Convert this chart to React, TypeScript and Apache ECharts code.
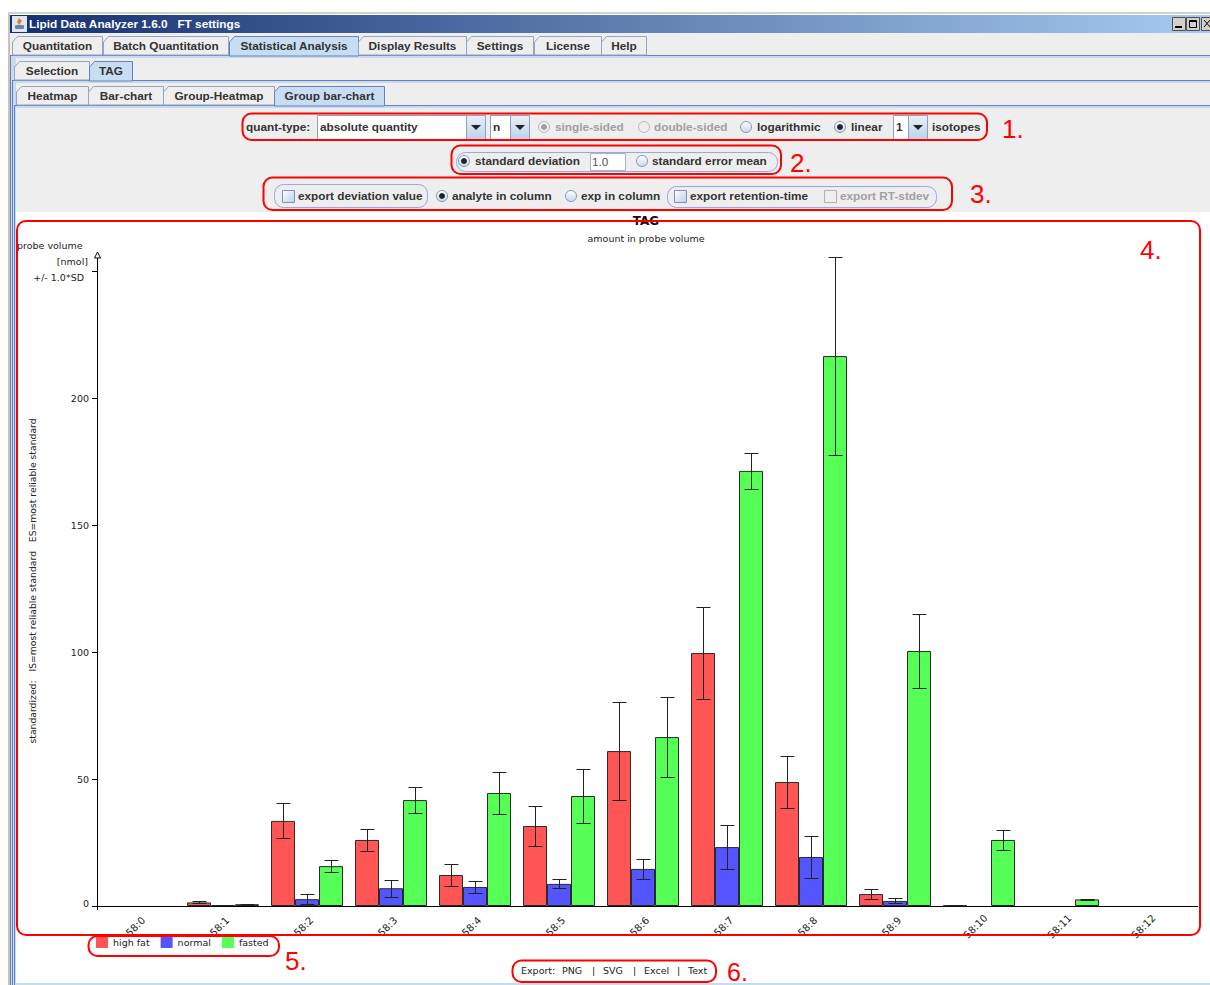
import React, { useEffect, useRef } from "react";
import * as echarts from "echarts";

const categories = ["58:0","58:1","58:2","58:3","58:4","58:5","58:6","58:7","58:8","58:9","58:10","58:11","58:12"];
const seriesNames = ["high fat", "normal", "fasted"];
const highFat = [null, 1.4, 33.5, 26, 12.2, 31.5, 61, 99.6, 48.8, 4.7, 0.2, null, null];
const normal = [null, 0.3, 2.7, 7, 7.5, 8.7, 14.6, 23.2, 19.3, 2, null, null, null];
const fasted = [null, 0.7, 15.7, 41.7, 44.5, 43.3, 66.5, 171.3, 216.5, 100.4, 26, 2.6, null];
const highFatSd = [null, 0.4, 6.9, 4.5, 4.5, 7.9, 19.3, 18.1, 10.2, 2, 0, null, null];
const normalSd = [null, 0, 1.9, 3.4, 2.2, 1.8, 4, 8.5, 8.1, 1, null, null, null];
const fastedSd = [null, 0.2, 2.3, 5.1, 8.3, 10.8, 15.8, 7.2, 38.9, 14.6, 3.9, 0.3, null];
const yTicks = [0, 50, 100, 150, 200];

const TXT = "#333333";
const GREY = "#a0a0a0";
const RED = "#ff0000";
const BOLD = "Liberation Sans";
const CHART = "DejaVu Sans";

const rect = (x: number, y: number, w: number, h: number, fill: any, stroke?: string, r = 0, z = 0) => ({
  type: "rect", z, silent: true, shape: { x, y, width: w, height: h, r }, style: { fill, stroke: stroke ?? "none", lineWidth: 1 },
});
const text = (x: number, y: number, t: string, o: any = {}) => ({
  type: "text", x, y, z: o.z ?? 5, rotation: o.rotation ?? 0, silent: true,
  style: {
    text: t, fill: o.fill ?? TXT, align: o.align ?? "left", verticalAlign: "middle",
    font: `${o.weight ?? "bold"} ${o.size ?? 11.8}px "${o.family ?? BOLD}"`,
  },
});
const cText = (x: number, y: number, t: string, o: any = {}) => text(x, y, t, { weight: "normal", size: 9.5, family: CHART, fill: "#222", ...o });
const line = (x1: number, y1: number, x2: number, y2: number, stroke: string, z = 1) => ({
  type: "line", z, silent: true, shape: { x1, y1, x2, y2 }, style: { stroke, lineWidth: 1 },
});
const tab = (x1: number, x2: number, y1: number, y2: number, label: string, selected = false) => [
  {
    type: "polygon", z: 2, silent: true,
    shape: { points: [[x1 + 0.5, y2], [x1 + 0.5, y1 + 6], [x1 + 5.5, y1 + 0.5], [x2 + 0.5, y1 + 0.5], [x2 + 0.5, y2]] },
    style: { fill: selected ? "#c8ddf2" : "#eeeeee", stroke: selected ? "#6382bf" : "#93a5c0", lineWidth: 1 },
  },
  text((x1 + x2) / 2 + 0.5, (y1 + y2) / 2, label, { align: "center" }),
];
const radio = (cx: number, cy: number, on: boolean, disabled = false) => {
  const g = new echarts.graphic.LinearGradient(0, 0, 0, 1, [
    { offset: 0, color: "#ffffff" }, { offset: 1, color: "#c8d8ea" },
  ]);
  const a: any[] = [{
    type: "circle", z: 4, silent: true, shape: { cx, cy, r: 5.5 },
    style: { fill: disabled ? "#eeeeee" : g, stroke: disabled ? "#b8b8b8" : "#7f93b8", lineWidth: 1 },
  }];
  if (on) a.push({ type: "circle", z: 5, silent: true, shape: { cx, cy, r: 3 }, style: { fill: disabled ? "#a0a0a0" : "#222" } });
  return a;
};
const check = (x: number, y: number, disabled = false) => rect(x + 0.5, y + 0.5, 12, 12,
  disabled ? "#eeeeee" : new echarts.graphic.LinearGradient(0, 0, 1, 1, [{ offset: 0, color: "#ffffff" }, { offset: 1, color: "#bcd0e8" }]),
  disabled ? "#b0b0b0" : "#7f93b8", 0, 4);
const combo = (x1: number, x2: number, y1: number, y2: number, label: string) => {
  const bx = x2 - 19;
  return [
    rect(x1 + 0.5, y1 + 0.5, x2 - x1, y2 - y1, "#ffffff", "#8da0bd", 0, 3),
    rect(bx + 0.5, y1 + 0.5, 19, y2 - y1, new echarts.graphic.LinearGradient(0, 0, 0, 1, [{ offset: 0, color: "#e8f0f8" }, { offset: 1, color: "#bcd2ea" }]), "#8da0bd", 0, 3),
    { type: "polygon", z: 4, silent: true, shape: { points: [[bx + 5, (y1 + y2) / 2 - 2], [bx + 15, (y1 + y2) / 2 - 2], [bx + 10, (y1 + y2) / 2 + 3]] }, style: { fill: "#222" } },
    text(x1 + 3, (y1 + y2) / 2, label),
  ];
};
const redBox = (x1: number, y1: number, x2: number, y2: number, r = 9) => ({
  type: "rect", z: 60, silent: true, shape: { x: x1, y: y1, width: x2 - x1, height: y2 - y1, r },
  style: { fill: "none", stroke: RED, lineWidth: 2 },
});
const pill = (x1: number, y1: number, x2: number, y2: number) => rect(x1 + 0.5, y1 + 0.5, x2 - x1, y2 - y1, "none", "#9aa6e8", 9, 3);
const num = (x: number, y: number, t: string, size = 26) => text(x, y, t, { weight: "normal", size, fill: RED, family: "Liberation Sans", z: 61 });

function chrome(): any[] {
  const out: any[] = [];
  out.push(rect(8, 12, 1202, 2, "#d4d0c8"));
  out.push(rect(8, 14, 2, 971, "#c8c4bc"));
  out.push(rect(10, 33, 1200, 180, "#eeeeee"));
  out.push(rect(10, 15, 1200, 18, new echarts.graphic.LinearGradient(0, 0, 1, 0, [
    { offset: 0, color: "#14306f" }, { offset: 1, color: "#a6caf0" },
  ])));
  // window icon
  out.push(rect(12, 16, 15, 16, "#dfe6f0"));
  out.push({ type: "polygon", z: 2, silent: true, shape: { points: [[19, 18], [22, 21], [19, 25], [17, 22]] }, style: { fill: "#e08020" } });
  out.push(rect(15, 25, 9, 4, "#6a86b0", undefined, 1, 2));
  out.push(text(29, 24, "Lipid Data Analyzer 1.6.0   FT settings", { fill: "#ffffff" }));
  // window buttons
  [1172, 1186, 1201].forEach((x) => {
    out.push(rect(x + 0.5, 17.5, 13, 13, "#d4d0c8", "#505050", 0, 1));
  });
  out.push(rect(1175, 26, 7, 2, "#000", undefined, 0, 2));
  out.push(rect(1189.5, 20.5, 7, 7, "none", "#000", 0, 2));
  out.push(line(1189.5, 21.5, 1197, 21.5, "#000", 2));
  out.push(line(1204, 20, 1210, 27, "#000", 2));
  out.push(line(1210, 20, 1204, 27, "#000", 2));
  // nested panel bands
  out.push(rect(10, 55, 1200, 3, "#c8daef"));
  out.push(line(10, 55.5, 1210, 55.5, "#6382bf"));
  out.push(rect(12, 80, 1198, 3, "#c8daef"));
  out.push(line(12, 80.5, 1210, 80.5, "#6382bf"));
  out.push(rect(14, 105, 1196, 3, "#c8daef"));
  out.push(line(14, 105.5, 1210, 105.5, "#6382bf"));
  out.push(rect(10, 55, 6, 930, "#c8daef"));
  out.push(line(10.5, 55, 10.5, 985, "#6382bf"));
  out.push(line(12.5, 80, 12.5, 985, "#6382bf"));
  out.push(line(14.5, 105, 14.5, 985, "#6382bf"));
  out.push(rect(16, 212, 1194, 771, "#ffffff"));
  out.push(rect(16, 983, 1194, 2, "#c8daef"));
  // tabs
  out.push(...tab(12, 102, 36, 55, "Quantitation"));
  out.push(...tab(103, 228, 36, 55, "Batch Quantitation"));
  out.push(...tab(229, 358, 36, 56, "Statistical Analysis", true));
  out.push(...tab(358, 466, 36, 55, "Display Results"));
  out.push(...tab(466, 533, 36, 55, "Settings"));
  out.push(...tab(534, 601, 36, 55, "License"));
  out.push(...tab(601, 646, 36, 55, "Help"));
  out.push(...tab(14, 89, 61, 80, "Selection"));
  out.push(...tab(89, 132, 61, 81, "TAG", true));
  out.push(...tab(16, 88, 86, 105, "Heatmap"));
  out.push(...tab(88, 163, 86, 105, "Bar-chart"));
  out.push(...tab(163, 274, 86, 105, "Group-Heatmap"));
  out.push(...tab(274, 384, 86, 106, "Group bar-chart", true));
  // row 1
  out.push(text(246, 127, "quant-type:"));
  out.push(...combo(317, 485, 115, 139, "absolute quantity"));
  out.push(...combo(490, 529, 115, 139, "n"));
  out.push(...radio(544, 127, true, true), text(555, 127, "single-sided", { fill: GREY }));
  out.push(...radio(644, 127, false, true), text(654, 127, "double-sided", { fill: GREY }));
  out.push(...radio(746, 127, false), text(757, 127, "logarithmic"));
  out.push(...radio(840, 127, true), text(851, 127, "linear"));
  out.push(...combo(893, 927, 115, 139, "1"));
  out.push(text(932, 127, "isotopes"));
  // row 2
  out.push(pill(456, 152, 777, 171));
  out.push(...radio(464, 161, true), text(475, 161, "standard deviation"));
  out.push(rect(590.5, 153.5, 35, 17, "#ffffff", "#a8b4c8", 0, 4));
  out.push(text(592, 162, "1.0", { weight: "normal", fill: "#555" }));
  out.push(...radio(642, 161, false), text(652, 161, "standard error mean"));
  // row 3
  out.push(pill(274, 184, 427, 207));
  out.push(check(282, 190), text(298, 196, "export deviation value"));
  out.push(...radio(442, 196, true), text(452, 196, "analyte in column"));
  out.push(...radio(571, 196, false), text(581, 196, "exp in column"));
  out.push(pill(667, 186, 936, 207));
  out.push(check(674, 190), text(690, 196, "export retention-time"));
  out.push(check(824, 190, true), text(840, 196, "export RT-stdev", { fill: GREY }));
  // chart-side texts
  out.push(cText(17, 245, "probe volume"));
  out.push(cText(88, 261, "[nmol]", { align: "right" }));
  out.push(cText(84, 277, "+/- 1.0*SD", { align: "right" }));
  out.push(cText(32, 581, "standardized:   IS=most reliable standard   ES=most reliable standard", { rotation: Math.PI / 2, align: "center", size: 9.25 }));
  // axis extensions
  out.push(line(97.5, 271, 97.5, 255, "#000", 3));
  out.push({ type: "polygon", z: 3, silent: true, shape: { points: [[97.5, 252], [94.5, 258], [100.5, 258]] }, style: { fill: "#fff", stroke: "#000", lineWidth: 1 } });
  out.push(line(97.5, 906, 97.5, 910, "#000", 3));
  out.push(line(1189, 906.5, 1198, 906.5, "#000", 3));
  // export row
  out.push(cText(521, 970, "Export:"));
  out.push(cText(562, 970, "PNG"));
  out.push(cText(592, 970, "|"));
  out.push(cText(603, 970, "SVG"));
  out.push(cText(633, 970, "|"));
  out.push(cText(644, 970, "Excel"));
  out.push(cText(677, 970, "|"));
  out.push(cText(688, 970, "Text"));
  // annotations
  out.push(redBox(242.5, 113.5, 987, 140));
  out.push(redBox(451.5, 145.5, 781, 174));
  out.push(redBox(263.5, 177.5, 952, 210));
  out.push(redBox(17, 221, 1200, 935));
  out.push(redBox(88.5, 936, 279, 956));
  out.push(redBox(512.5, 960.5, 716, 982));
  out.push(num(1002, 129, "1."), num(790, 163, "2."), num(970, 194, "3."), num(1140, 250, "4."), num(285, 961, "5."), num(727, 972, "6.", 25));
  return out;
}

function errorSeries(values: (number | null)[], sds: (number | null)[], offset: number) {
  const data: number[][] = [];
  values.forEach((v, i) => {
    const s = sds[i];
    if (v !== null && s !== null) data.push([i, v - s, v + s]);
  });
  return {
    type: "custom", z: 5, silent: true, data, encode: { x: 0, y: [1, 2] },
    renderItem: (_p: any, api: any) => {
      const lo = api.coord([api.value(0), api.value(1)]);
      const hi = api.coord([api.value(0), api.value(2)]);
      const x = Math.round(lo[0] + offset) + 0.5;
      const yl = Math.round(lo[1]) + 0.5;
      const yh = Math.round(hi[1]) + 0.5;
      const style = { stroke: "#222", lineWidth: 1, fill: "none" };
      return {
        type: "group",
        children: [
          { type: "line", shape: { x1: x, y1: yl, x2: x, y2: yh }, style },
          { type: "line", shape: { x1: x - 7, y1: yl, x2: x + 7, y2: yl }, style },
          { type: "line", shape: { x1: x - 7, y1: yh, x2: x + 7, y2: yh }, style },
        ],
      };
    },
  };
}

export default function App() {
  const ref = useRef<HTMLDivElement>(null);
  useEffect(() => {
    const chart = echarts.init(ref.current!, null, { renderer: "svg" });
    const bar = (name: string, data: (number | null)[], color: string) => ({
      type: "bar", name, data, barWidth: 24, barGap: 0, z: 3,
      itemStyle: { color, borderColor: "#2a2a2a", borderWidth: 1 },
    });
    chart.setOption({
      animation: false,
      backgroundColor: "#ffffff",
      title: [
        { text: "TAG", left: 641, top: 210, textAlign: "center", z: 10, textStyle: { fontFamily: CHART, fontSize: 12, fontWeight: "bold", color: "#111" } },
        { text: "amount in probe volume", left: 641, top: 228, textAlign: "center", textStyle: { fontFamily: CHART, fontSize: 9.5, fontWeight: "normal", color: "#222" } },
      ],
      legend: {
        data: seriesNames, left: 96, top: 936, orient: "horizontal", itemWidth: 12, itemHeight: 12, itemGap: 11, padding: 0,
        selectedMode: false, icon: "rect",
        itemStyle: { borderWidth: 0 },
        textStyle: { fontFamily: CHART, fontSize: 9.5, color: "#222", padding: [8, 0, 0, 0] },
      },
      grid: { left: 97, top: 271, width: 1092, height: 635, containLabel: false },
      xAxis: {
        type: "category", data: categories, boundaryGap: true,
        axisLine: { show: true, lineStyle: { color: "#000", width: 1 } },
        axisTick: { show: false },
        axisLabel: { rotate: 45, interval: 0, margin: 17, align: "center", verticalAlign: "middle", padding: [0, 10, 0, 0], fontFamily: CHART, fontSize: 10, color: "#222" },
      },
      yAxis: {
        type: "value", min: 0, max: 250, interval: 50,
        splitLine: { show: false },
        axisLine: { show: true, lineStyle: { color: "#000", width: 1 } },
        axisTick: { show: true, length: 5, lineStyle: { color: "#000" } },
        axisLabel: {
          margin: 8, fontFamily: CHART, fontSize: 9.5, color: "#222",
          formatter: (v: number) => (v === 0 ? "{z|0}" : yTicks.includes(v) ? String(v) : ""),
          rich: { z: { fontFamily: CHART, fontSize: 9.5, color: "#222", padding: [0, 0, 6, 0] } },
        },
      },
      graphic: { elements: chrome() },
      series: [
        bar(seriesNames[0], highFat, "#ff5555"),
        bar(seriesNames[1], normal, "#5555ff"),
        bar(seriesNames[2], fasted, "#55ff55"),
        errorSeries(highFat, highFatSd, -24),
        errorSeries(normal, normalSd, 0),
        errorSeries(fasted, fastedSd, 24),
      ],
    });
    return () => chart.dispose();
  }, []);
  return <div ref={ref} style={{ position: "absolute", left: 0, top: 0, width: 1210, height: 985, overflow: "hidden" }} />;
}
